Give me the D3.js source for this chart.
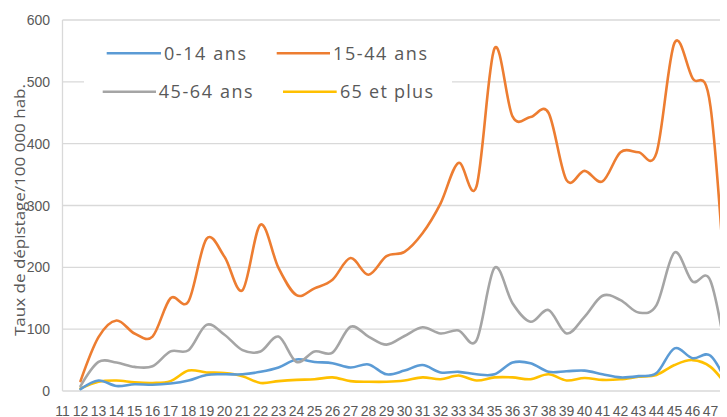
<!DOCTYPE html>
<html>
<head>
<meta charset="utf-8">
<script src="https://cdn.jsdelivr.net/npm/d3@7"></script>
<style>
  html, body { margin: 0; padding: 0; background: #fff; }
  svg { display: block; }
</style>
</head>
<body>
<svg id="chart"></svg>
<script>
// semaines (axe des x)
var weeks = d3.range(11, 49)
var weekLabels = d3.range(11, 48)
var yTicks = [0, 100, 200, 300, 400, 500, 600]

// valeurs par tranche d'âge, semaines 12 à 48
var age0_14 = [3, 17, 8, 11, 10, 12, 17, 26, 27, 27, 31, 38, 51, 47, 45, 38, 43, 27, 33, 42, 30, 31, 27, 27, 46, 45, 31, 32, 33, 27, 22, 24, 29, 69, 53, 57, 7]
var age15_44 = [16, 87, 114, 93, 88, 150, 145, 246, 217, 163, 269, 199, 155, 166, 180, 215, 188, 218, 225, 255, 303, 369, 331, 554, 444, 443, 450, 341, 356, 339, 386, 386, 385, 563, 506, 460, 85]
var age45_64 = [8, 47, 46, 39, 40, 64, 66, 107, 91, 66, 64, 88, 47, 64, 62, 104, 88, 75, 89, 103, 93, 98, 82, 199, 142, 112, 131, 93, 120, 154, 147, 127, 139, 224, 177, 178, 35]
var age65 = [4, 15, 17, 14, 13, 16, 33, 30, 29, 24, 13, 16, 18, 19, 22, 16, 15, 15, 17, 22, 19, 25, 17, 22, 22, 19, 27, 17, 21, 18, 19, 23, 26, 42, 50, 39, 5]

var seriesNames = ["0-14 ans", "15-44 ans", "45-64 ans", "65 et plus"]
var seriesColors = ["#5B9BD5", "#ED7D31", "#A5A5A5", "#FFC000"]
var seriesValues = [age0_14, age15_44, age45_64, age65]

var width = 727, height = 417
var svg = d3.select("#chart")
    .attr("width", width)
    .attr("height", height)

var plotLeft = 62.5, plotRight = 720, plotTop = 20, plotBottom = 391

var x = d3.scaleLinear()
    .domain([11, 47])
    .range([plotLeft, 710.5])
var y = d3.scaleLinear()
    .domain([0, 600])
    .range([plotBottom, plotTop])

var textColor = "#595959"

// quadrillage
svg.append("g")
    .selectAll("line")
    .data(yTicks)
    .enter()
    .append("line")
        .attr("x1", plotLeft)
        .attr("x2", plotRight)
        .attr("y1", d => y(d))
        .attr("y2", d => y(d))
        .attr("stroke", "#D9D9D9")
        .attr("stroke-width", 1.3)

svg.append("line")
    .attr("x1", plotLeft).attr("x2", plotLeft)
    .attr("y1", plotTop).attr("y2", plotBottom)
    .attr("stroke", "#D9D9D9")
    .attr("stroke-width", 1.3)

// axe des y
svg.append("g")
    .selectAll("text")
    .data(yTicks)
    .enter()
    .append("text")
        .attr("x", 50)
        .attr("y", d => y(d) + 5)
        .attr("text-anchor", "end")
        .attr("font-family", "'Liberation Sans Narrow', 'Arial Narrow', sans-serif")
        .attr("font-size", 14)
        .attr("fill", textColor)
        .text(d => d)

// axe des x
svg.append("g")
    .selectAll("text")
    .data(weekLabels)
    .enter()
    .append("text")
        .attr("x", d => x(d))
        .attr("y", 415.5)
        .attr("text-anchor", "middle")
        .attr("font-family", "'Liberation Sans Narrow', 'Arial Narrow', sans-serif")
        .attr("font-size", 14)
        .attr("fill", textColor)
        .text(d => d)

svg.append("text")
    .attr("transform", "translate(25,210) rotate(-90)")
    .attr("text-anchor", "middle")
    .attr("font-family", "'Open Sans', sans-serif")
    .attr("font-size", 14)
    .attr("fill", textColor)
    .attr("textLength", 252)
    .attr("lengthAdjust", "spacingAndGlyphs")
    .text("Taux de dépistage/100 000 hab.")

// courbes (lissées)
svg.append("clipPath")
    .attr("id", "plot-clip")
    .append("rect")
        .attr("x", 0).attr("y", 0)
        .attr("width", plotRight).attr("height", height)

var line = d3.line()
    .x((d, i) => x(weeks[i + 1]))
    .y(d => y(d))
    .curve(d3.curveCardinal.tension(0))

var g = svg.append("g").attr("clip-path", "url(#plot-clip)")
var order = [3, 0, 2, 1]
order.forEach(function (k) {
    g.append("path")
        .datum(seriesValues[k])
        .attr("d", line)
        .attr("fill", "none")
        .attr("stroke", seriesColors[k])
        .attr("stroke-width", 2.6)
        .attr("stroke-linejoin", "round")
        .attr("stroke-linecap", "round")
})

// légende
var legend = svg.append("g")
legend.append("rect")
    .attr("x", 84).attr("y", 28)
    .attr("width", 368).attr("height", 88)
    .attr("fill", "#fff")

var legendItems = [
    {line: [106.7, 161], text: 164, y: 53.3, len: 82},
    {line: [276.7, 330], text: 333, y: 53.3, len: 94},
    {line: [102.7, 156], text: 158.7, y: 91.7, len: 94},
    {line: [283, 336.7], text: 340, y: 91.7, len: 93}
]
legendItems.forEach(function (d, i) {
    legend.append("line")
        .attr("x1", d.line[0]).attr("x2", d.line[1])
        .attr("y1", d.y).attr("y2", d.y)
        .attr("stroke", seriesColors[i])
        .attr("stroke-width", 2.6)
    legend.append("text")
        .attr("x", d.text)
        .attr("y", d.y + 6.5)
        .attr("font-family", "'Open Sans', sans-serif")
        .attr("font-size", 18)
        .attr("fill", textColor)
        .attr("textLength", d.len)
        .attr("lengthAdjust", "spacing")
        .text(seriesNames[i])
})
</script>
</body>
</html>
